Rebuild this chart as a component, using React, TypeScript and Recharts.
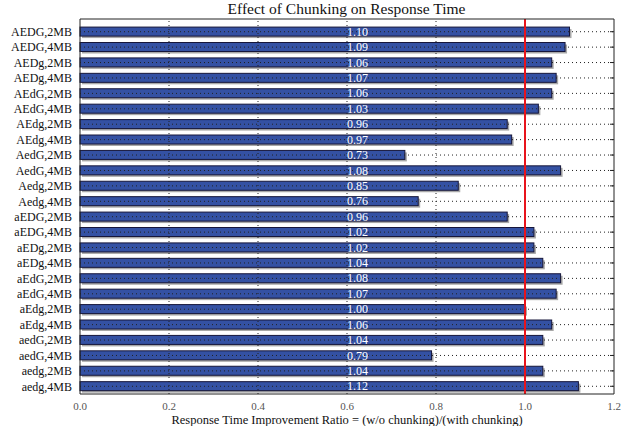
import React from 'react';
import {
  BarChart,
  Bar,
  XAxis,
  YAxis,
  ReferenceLine,
  LabelList,
} from 'recharts';

const categories = [
  'AEDG,2MB', 'AEDG,4MB', 'AEDg,2MB', 'AEDg,4MB', 'AEdG,2MB', 'AEdG,4MB',
  'AEdg,2MB', 'AEdg,4MB', 'AedG,2MB', 'AedG,4MB', 'Aedg,2MB', 'Aedg,4MB',
  'aEDG,2MB', 'aEDG,4MB', 'aEDg,2MB', 'aEDg,4MB', 'aEdG,2MB', 'aEdG,4MB',
  'aEdg,2MB', 'aEdg,4MB', 'aedG,2MB', 'aedG,4MB', 'aedg,2MB', 'aedg,4MB',
];

const ratios = [
  1.10, 1.09, 1.06, 1.07, 1.06, 1.03,
  0.96, 0.97, 0.73, 1.08, 0.85, 0.76,
  0.96, 1.02, 1.02, 1.04, 1.08, 1.07,
  1.00, 1.06, 1.04, 0.79, 1.04, 1.12,
];

const xTicks = [0, 0.2, 0.4, 0.6, 0.8, 1.0, 1.2];
const labelAt = 0.6;
const baseline = 1.0;

const chartData = categories.map((name, i) => ({ name, ratio: ratios[i] }));

const FONT = '"Liberation Serif", "Times New Roman", serif';
const BAR_FILL = '#3451a3';

function ShadowBar(props: any) {
  const { x, y, width, height } = props;
  if (width == null || height == null) return null;
  return (
    <g>
      <rect x={x + 2} y={y + 2} width={width} height={height} fill="#a8a8a8" />
      <rect x={x} y={y} width={width} height={height} fill={BAR_FILL} stroke="#16163a" strokeWidth={1} />
    </g>
  );
}

function ValueLabel(props: any) {
  const { x, y, width, height, value } = props;
  // place the text at ratio 0.6 using the bar's own pixel scale
  const px = x + (width * labelAt) / Number(value);
  return (
    <text
      x={px}
      y={y + height / 2}
      dy="0.35em"
      fill="#ffffff"
      fontSize={12}
      fontFamily={FONT}
    >
      {Number(value).toFixed(2)}
    </text>
  );
}

export default function App() {
  return (
    <div style={{ position: 'absolute', left: 0, top: 0, width: 630, height: 426, background: '#fff' }}>
      <div
        style={{
          position: 'absolute',
          left: 80,
          width: 533,
          top: 0,
          textAlign: 'center',
          fontFamily: FONT,
          fontSize: 15.5,
          color: '#111',
        }}
      >
        Effect of Chunking on Response Time
      </div>
      <BarChart
        width={630}
        height={426}
        data={chartData}
        layout="vertical"
        margin={{ top: 19, right: 16, left: 0, bottom: 0 }}
        barCategoryGap="20%"
      >
        <XAxis
          type="number"
          xAxisId="bottom"
          domain={[0, 1.2]}
          ticks={xTicks}
          tickFormatter={(v: number) => v.toFixed(1)}
          tick={{ fontSize: 11, fill: '#555', fontFamily: FONT }}
          tickLine={false}
          axisLine={{ stroke: '#222' }}
          height={32}
          label={{
            value: 'Response Time Improvement Ratio = (w/o chunking)/(with chunking)',
            position: 'insideBottom',
            offset: 2,
            fontSize: 12.5,
            fill: '#111',
            fontFamily: FONT,
          }}
        />
        <XAxis
          type="number"
          xAxisId="top"
          orientation="top"
          domain={[0, 1.2]}
          ticks={xTicks}
          tickFormatter={() => ''}
          mirror
          tickSize={4}
          tickLine={{ stroke: '#222' }}
          axisLine={{ stroke: '#222' }}
          height={1}
        />
        <YAxis
          type="category"
          yAxisId="left"
          dataKey="name"
          width={80}
          interval={0}
          tick={{ fontSize: 12, fill: '#111', fontFamily: FONT }}
          tickLine={false}
          axisLine={{ stroke: '#222' }}
          padding={{ top: 5, bottom: 0 }}
        />
        <YAxis
          type="category"
          yAxisId="right"
          orientation="right"
          dataKey="name"
          width={1}
          interval={0}
          mirror
          tickSize={4}
          tickFormatter={() => ''}
          tickLine={{ stroke: '#222' }}
          axisLine={{ stroke: '#222' }}
          padding={{ top: 5, bottom: 0 }}
        />
        <Bar
          dataKey="ratio"
          xAxisId="bottom"
          yAxisId="left"
          shape={ShadowBar}
          isAnimationActive={false}
        >
          <LabelList dataKey="ratio" content={ValueLabel} />
        </Bar>
        {categories.map((c) => (
          <ReferenceLine
            key={c}
            y={c}
            xAxisId="bottom"
            yAxisId="left"
            stroke="#222"
            strokeDasharray="1 3"
            strokeWidth={1}
          />
        ))}
        {xTicks.slice(1, -1).map((t) => (
          <ReferenceLine
            key={t}
            x={t}
            xAxisId="bottom"
            yAxisId="left"
            stroke="#222"
            strokeDasharray="1 3"
            strokeWidth={1}
          />
        ))}
        <ReferenceLine x={baseline} xAxisId="bottom" yAxisId="left" stroke="#e8141c" strokeWidth={2} />
      </BarChart>
    </div>
  );
}
